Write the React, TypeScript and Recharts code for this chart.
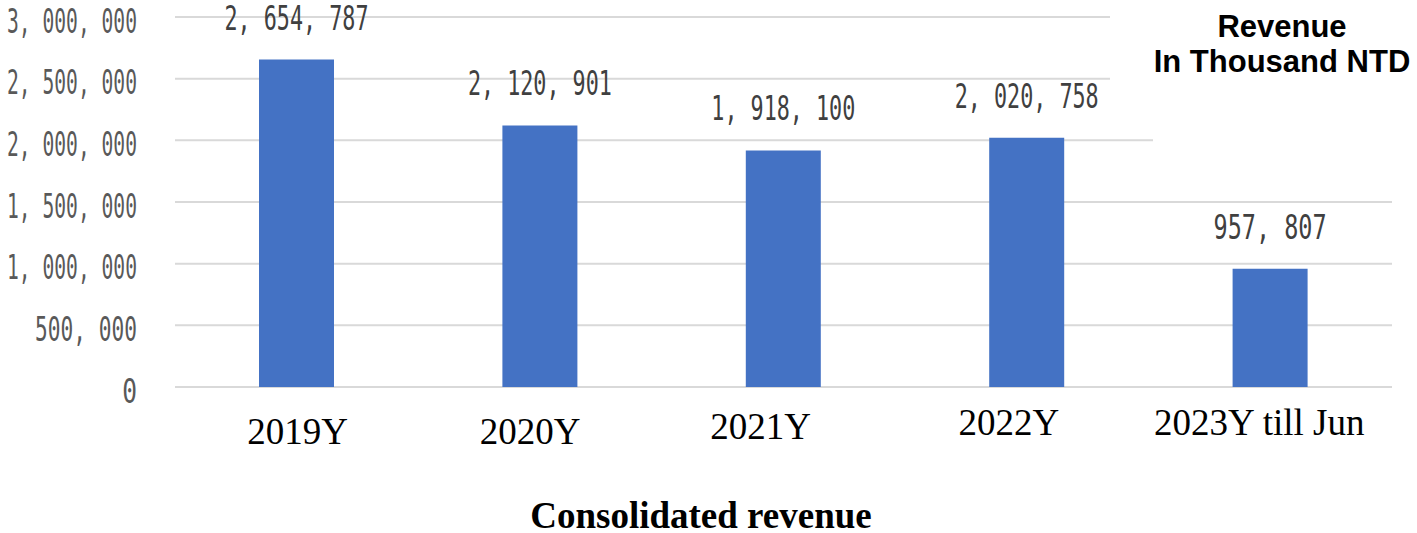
import { BarChart, Bar, XAxis, YAxis, CartesianGrid, LabelList } from "recharts";

const categories = ["2019Y", "2020Y", "2021Y", "2022Y", "2023Y till Jun"];
const revenue = [2654787, 2120901, 1918100, 2020758, 957807];
const yTicks = [0, 500000, 1000000, 1500000, 2000000, 2500000, 3000000];

// the category labels in the original sit a little off a common line
const tickShift = [
  { dx: 1, dy: 36 },
  { dx: -10, dy: 36 },
  { dx: -23, dy: 31 },
  { dx: -18, dy: 27 },
  { dx: -11, dy: 27 },
];

const data = categories.map((name, i) => ({ name, revenue: revenue[i] }));

const fmt = (v: number) => v.toLocaleString("en-US").replace(/,/g, ", ");

const mono = "'DejaVu Sans Mono', 'Liberation Mono', monospace";

// squeeze the text to the narrow look of the original figures
const fitWidth = (s: string, digit: number, pair: number) => {
  const digits = s.replace(/[^0-9]/g, "").length;
  const pairs = (s.match(/,/g) || []).length;
  return digits * digit + pairs * pair;
};

function CategoryTick(props: any) {
  const { x, y, payload, index } = props;
  const s = tickShift[index] || { dx: 0, dy: 0 };
  return (
    <text
      x={x + s.dx}
      y={y + s.dy}
      textAnchor="middle"
      dominantBaseline="central"
      fontFamily="'Liberation Serif', 'Times New Roman', serif"
      fontSize={37}
      fill="#000"
    >
      {payload.value}
    </text>
  );
}

function ValueTick(props: any) {
  const { x, y, payload } = props;
  const s = fmt(payload.value);
  return (
    <text
      x={x}
      y={y + 4}
      textAnchor="end"
      dominantBaseline="central"
      fontFamily={mono}
      fontSize={33}
      fill="#595959"
      textLength={fitWidth(s, 14.8, 13.2)}
      lengthAdjust="spacingAndGlyphs"
    >
      {s}
    </text>
  );
}

function BarValue(props: any) {
  const { x, y, width, value } = props;
  const s = fmt(Number(value));
  return (
    <text
      x={x + width / 2}
      y={y - 42}
      textAnchor="middle"
      dominantBaseline="central"
      fontFamily={mono}
      fontSize={34}
      fill="#404040"
      textLength={fitWidth(s, 16.4, 14.6)}
      lengthAdjust="spacingAndGlyphs"
    >
      {s}
    </text>
  );
}

export default function App() {
  return (
    <div
      style={{
        position: "absolute",
        left: 0,
        top: 0,
        width: 1417,
        height: 533,
        background: "#fff",
        overflow: "hidden",
      }}
    >
      <BarChart
        width={1417}
        height={533}
        data={data}
        margin={{ top: 17, right: 25, bottom: 0, left: 0 }}
      >
        <CartesianGrid vertical={false} stroke="#d9d9d9" strokeWidth={2} />
        <XAxis
          dataKey="name"
          axisLine={false}
          tickLine={false}
          height={146}
          tick={<CategoryTick />}
          interval={0}
        />
        <YAxis
          domain={[0, 3000000]}
          ticks={yTicks}
          width={175}
          axisLine={false}
          tickLine={false}
          tickSize={0}
          tickMargin={38}
          tick={<ValueTick />}
        />
        <Bar dataKey="revenue" fill="#4472c4" barSize={75} isAnimationActive={false}>
          <LabelList dataKey="revenue" content={<BarValue />} />
        </Bar>
      </BarChart>
      <div
        style={{
          position: "absolute",
          left: 1110,
          top: 0,
          width: 307,
          height: 118,
          background: "#fff",
        }}
      />
      <div
        style={{
          position: "absolute",
          left: 1153,
          top: 118,
          width: 264,
          height: 32,
          background: "#fff",
        }}
      />
      <div
        style={{
          position: "absolute",
          left: 1132,
          top: 9,
          width: 300,
          textAlign: "center",
          fontFamily: "'Liberation Sans', Arial, sans-serif",
          fontWeight: "bold",
          fontSize: 31,
          lineHeight: "35px",
          color: "#000",
          whiteSpace: "nowrap",
        }}
      >
        <div>Revenue</div>
        <div>In Thousand NTD</div>
      </div>
      <div
        style={{
          position: "absolute",
          left: 401,
          top: 499,
          width: 600,
          textAlign: "center",
          fontFamily: "'Liberation Serif', 'Times New Roman', serif",
          fontWeight: "bold",
          fontSize: 37,
          lineHeight: "34px",
          color: "#000",
        }}
      >
        Consolidated revenue
      </div>
    </div>
  );
}
